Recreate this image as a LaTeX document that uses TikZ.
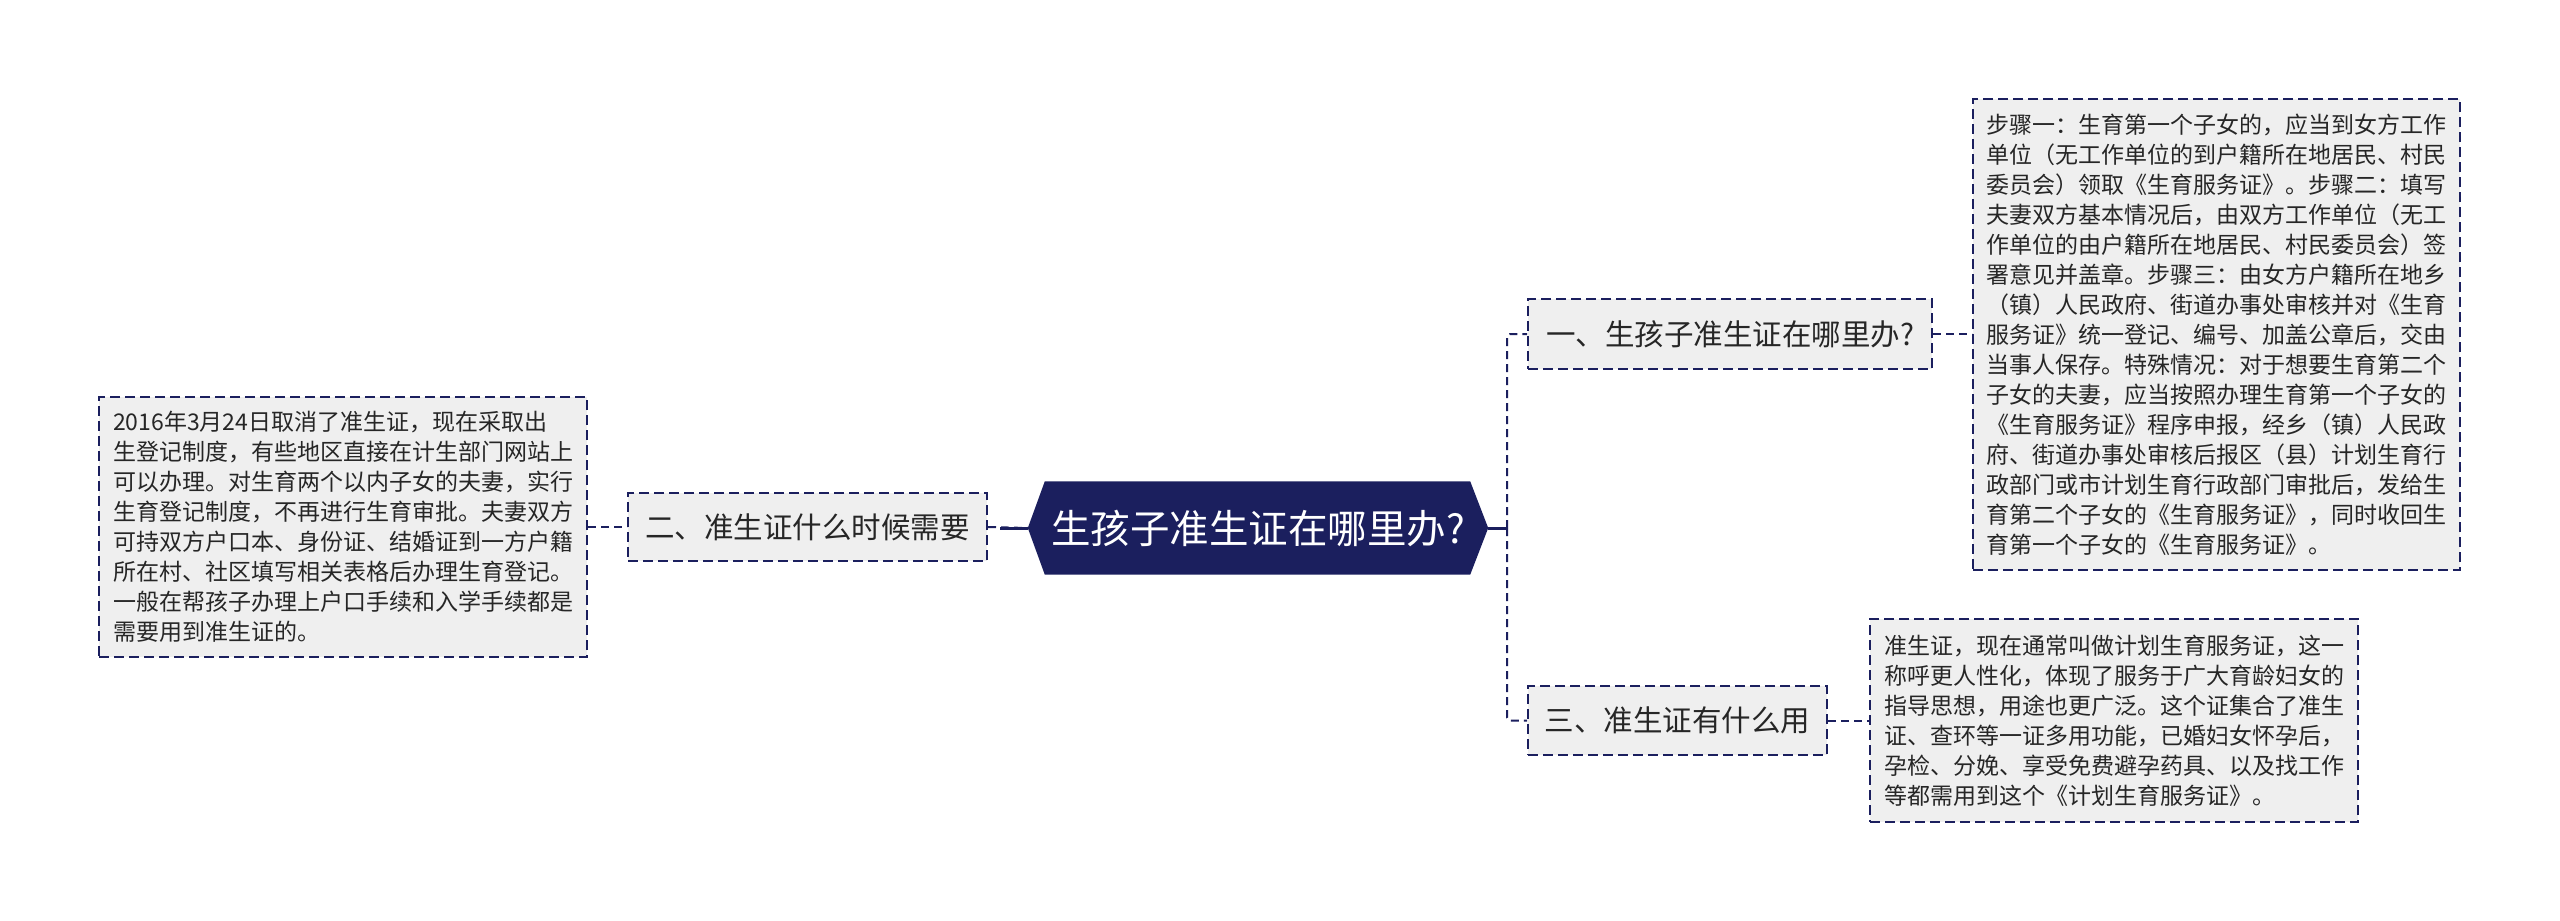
\documentclass[tikz,border=0pt]{standalone}
\usepackage{fontspec}
\newfontfamily\cjk{Noto Sans CJK SC}
\usetikzlibrary{backgrounds}
\definecolor{navy}{HTML}{1B1F5E}
\definecolor{boxfill}{HTML}{EFEFEF}
\definecolor{txt}{HTML}{262626}
\tikzset{
  boxline/.style={draw=navy, line width=2pt, dash pattern=on 10pt off 5pt},
  centernode/.style={font=\cjk\fontsize{39.5}{46}\selectfont, text=white, inner sep=0pt,
    minimum width=460pt, minimum height=93pt},
  branch/.style={boxline, fill=boxfill, text=txt, font=\cjk\fontsize{29.5}{36}\selectfont,
    inner sep=0pt},
  detail/.style={boxline, fill=boxfill, text=txt, font=\cjk\fontsize{23}{30}\selectfont,
    align=left, inner sep=0pt},
  conn/.style={draw=navy, line width=2pt, dash pattern=on 8pt off 5pt},
  stub/.style={draw=navy, line width=3pt}
}
\begin{document}
\begin{tikzpicture}[x=1pt,y=-1pt]
\useasboundingbox (0,0) rectangle (2560,921);

% central topic
\node[centernode] (c) at (1258,528) {生孩子准生证在哪里办?};

% branches
\node[branch, minimum width=359pt, minimum height=68pt] (b2) at (807.5,527) {二、准生证什么时候需要};
\node[branch, minimum width=404pt, minimum height=70pt] (b1) at (1730,334) {一、生孩子准生证在哪里办?};
\node[branch, minimum width=299pt, minimum height=69pt] (b3) at (1677.5,720.5) {三、准生证有什么用};

% details
\node[detail, minimum width=488pt, minimum height=260pt] (d0) at (343,527) {%
2016年3月24日取消了准生证，现在采取出\\
生登记制度，有些地区直接在计生部门网站上\\
可以办理。对生育两个以内子女的夫妻，实行\\
生育登记制度，不再进行生育审批。夫妻双方\\
可持双方户口本、身份证、结婚证到一方户籍\\
所在村、社区填写相关表格后办理生育登记。\\
一般在帮孩子办理上户口手续和入学手续都是\\
需要用到准生证的。};

\node[detail, minimum width=487pt, minimum height=471pt] (d1) at (2216.5,334.5) {%
步骤一：生育第一个子女的，应当到女方工作\\
单位（无工作单位的到户籍所在地居民、村民\\
委员会）领取《生育服务证》。步骤二：填写\\
夫妻双方基本情况后，由双方工作单位（无工\\
作单位的由户籍所在地居民、村民委员会）签\\
署意见并盖章。步骤三：由女方户籍所在地乡\\
（镇）人民政府、街道办事处审核并对《生育\\
服务证》统一登记、编号、加盖公章后，交由\\
当事人保存。特殊情况：对于想要生育第二个\\
子女的夫妻，应当按照办理生育第一个子女的\\
《生育服务证》程序申报，经乡（镇）人民政\\
府、街道办事处审核后报区（县）计划生育行\\
政部门或市计划生育行政部门审批后，发给生\\
育第二个子女的《生育服务证》，同时收回生\\
育第一个子女的《生育服务证》。};

\node[detail, minimum width=488pt, minimum height=203pt] (d2) at (2114,720.5) {%
准生证，现在通常叫做计划生育服务证，这一\\
称呼更人性化，体现了服务于广大育龄妇女的\\
指导思想，用途也更广泛。这个证集合了准生\\
证、查环等一证多用功能，已婚妇女怀孕后，\\
孕检、分娩、享受免费避孕药具、以及找工作\\
等都需用到这个《计划生育服务证》。};

% background: white page and hexagon of central topic
\begin{pgfonlayer}{background}
\fill[white] (0,0) rectangle (2560,921);
\fill[navy] (c.west) -- ([xshift=17pt]c.north west) -- ([xshift=-18pt]c.north east)
  -- (c.east) -- ([xshift=-18pt]c.south east) -- ([xshift=17pt]c.south west) -- cycle;
\end{pgfonlayer}

% connectors
\coordinate (hub) at (1507,528);
\draw[conn] (b2.east) -- (c.west);
\draw[stub] (c.west) -- ++(-28,0);
\draw[conn] (d0.east) -- (b2.west);
\draw[stub] (c.east) -- (hub);
\draw[conn, rounded corners=3pt] (hub) |- (b1.west);
\draw[conn, rounded corners=3pt] (hub) |- (b3.west);
\draw[conn] (b1.east) -- (b1.east -| d1.west);
\draw[conn] (b3.east) -- (b3.east -| d2.west);
\end{tikzpicture}
\end{document}
